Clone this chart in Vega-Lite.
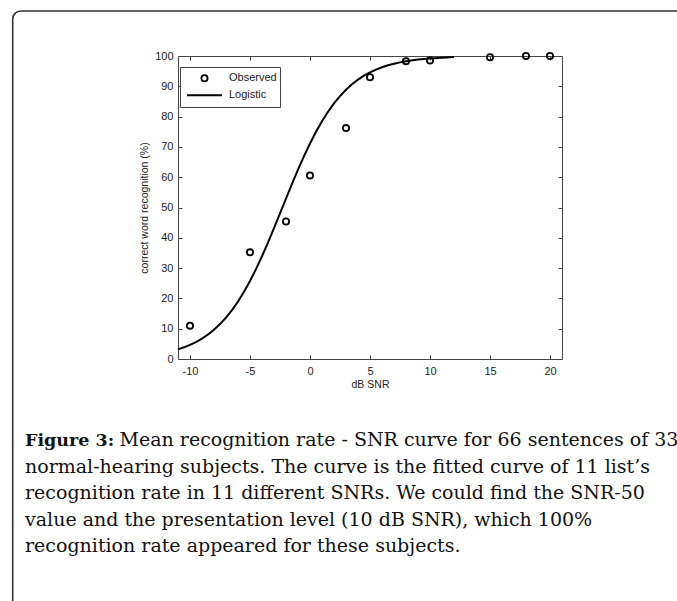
{
  "$schema": "https://vega.github.io/schema/vega-lite/v6.json",
  "width": 384,
  "height": 303,
  "autosize": "none",
  "padding": {"left": 178, "top": 56, "right": 115, "bottom": 242},
  "background": "white",
  "config": {
    "view": {"stroke": "#444", "strokeWidth": 1},
    "axis": {
      "grid": false,
      "domain": false,
      "ticks": true,
      "tickColor": "#444",
      "tickSize": -4,
      "tickWidth": 1,
      "labelFont": "Liberation Sans",
      "labelFontSize": 11,
      "labelColor": "#222",
      "titleFont": "Liberation Sans",
      "titleFontSize": 10.5,
      "titleFontWeight": "normal",
      "titleColor": "#222"
    }
  },
  "resolve": {"axis": {"x": "independent", "y": "independent"}},
  "layer": [
    {
      "data": {"values": [{"part": "frame"}]},
      "mark": {"type": "rect", "filled": false, "stroke": "#333", "strokeWidth": 1.6, "cornerRadius": 8},
      "encoding": {
        "x": {"datum": -24.775, "type": "quantitative", "scale": {"domain": [-11, 21]}, "axis": null},
        "x2": {"datum": 50},
        "y": {"datum": 114.85, "type": "quantitative", "scale": {"domain": [0, 100]}, "axis": null},
        "y2": {"datum": -120}
      }
    },
    {
      "data": {"values": [
        {"snr": -11, "pct": 3.19}, {"snr": -10.5, "pct": 3.86}, {"snr": -10, "pct": 4.65},
        {"snr": -9.5, "pct": 5.6}, {"snr": -9, "pct": 6.74}, {"snr": -8.5, "pct": 8.09},
        {"snr": -8, "pct": 9.66}, {"snr": -7.5, "pct": 11.52}, {"snr": -7, "pct": 13.67},
        {"snr": -6.5, "pct": 16.15}, {"snr": -6, "pct": 18.98}, {"snr": -5.5, "pct": 22.19},
        {"snr": -5, "pct": 25.75}, {"snr": -4.5, "pct": 29.67}, {"snr": -4, "pct": 33.91},
        {"snr": -3.5, "pct": 38.44}, {"snr": -3, "pct": 43.17}, {"snr": -2.5, "pct": 48.04},
        {"snr": -2, "pct": 52.94}, {"snr": -1.5, "pct": 57.79}, {"snr": -1, "pct": 62.5},
        {"snr": -0.5, "pct": 66.95}, {"snr": 0, "pct": 71.13}, {"snr": 0.5, "pct": 74.98},
        {"snr": 1, "pct": 78.48}, {"snr": 1.5, "pct": 81.61}, {"snr": 2, "pct": 84.37},
        {"snr": 2.5, "pct": 86.78}, {"snr": 3, "pct": 88.87}, {"snr": 3.5, "pct": 90.68},
        {"snr": 4, "pct": 92.21}, {"snr": 4.5, "pct": 93.5}, {"snr": 5, "pct": 94.6},
        {"snr": 5.5, "pct": 95.52}, {"snr": 6, "pct": 96.28}, {"snr": 6.5, "pct": 96.93},
        {"snr": 7, "pct": 97.46}, {"snr": 7.5, "pct": 97.9}, {"snr": 8, "pct": 98.27},
        {"snr": 9, "pct": 98.82}, {"snr": 10, "pct": 99.2}, {"snr": 11, "pct": 99.46},
        {"snr": 12, "pct": 99.63}
      ]},
      "mark": {"type": "line", "color": "black", "strokeWidth": 2},
      "encoding": {
        "x": {"field": "snr", "type": "quantitative", "scale": {"domain": [-11, 21]},
              "axis": {"orient": "top", "values": [-10, -5, 0, 5, 10, 15, 20], "labels": false, "title": null}},
        "y": {"field": "pct", "type": "quantitative", "scale": {"domain": [0, 100]},
              "axis": {"orient": "right", "values": [0, 10, 20, 30, 40, 50, 60, 70, 80, 90, 100], "labels": false, "title": null}}
      }
    },
    {
      "data": {"values": [
        {"snr": -10, "pct": 11.0, "series": "Observed"},
        {"snr": -5, "pct": 35.2, "series": "Observed"},
        {"snr": -2, "pct": 45.4, "series": "Observed"},
        {"snr": 0, "pct": 60.6, "series": "Observed"},
        {"snr": 3, "pct": 76.2, "series": "Observed"},
        {"snr": 5, "pct": 93.0, "series": "Observed"},
        {"snr": 8, "pct": 98.3, "series": "Observed"},
        {"snr": 10, "pct": 98.5, "series": "Observed"},
        {"snr": 15, "pct": 99.6, "series": "Observed"},
        {"snr": 18, "pct": 100, "series": "Observed"},
        {"snr": 20, "pct": 100, "series": "Observed"}
      ]},
      "mark": {"type": "point", "filled": false, "size": 1225, "strokeWidth": 1.8, "color": "black", "opacity": 1},
      "encoding": {
        "x": {"field": "snr", "type": "quantitative", "scale": {"domain": [-11, 21]},
              "axis": {"orient": "bottom", "values": [-10, -5, 0, 5, 10, 15, 20], "title": "dB SNR",
                       "labelExpr": "'' + datum.value", "labelPadding": 10, "titlePadding": 3}},
        "y": {"field": "pct", "type": "quantitative", "scale": {"domain": [0, 100]},
              "axis": {"orient": "left", "values": [0, 10, 20, 30, 40, 50, 60, 70, 80, 90, 100],
                       "title": "correct word recognition (%)", "labelPadding": 9, "titlePadding": 5}},
        "shape": {
          "field": "series", "type": "nominal",
          "scale": {"domain": ["Observed", "Logistic"],
                    "range": ["M-0.177,0A0.177,0.177,0,1,1,0.177,0A0.177,0.177,0,1,1,-0.177,0Z", "M-1,0H1"]},
          "legend": {
            "title": null, "orient": "none", "legendX": 2, "legendY": 11,
            "fillColor": "white", "strokeColor": "#444", "padding": 3,
            "clipHeight": 16.5, "rowPadding": 0, "symbolSize": 1225,
            "symbolStrokeColor": "black", "symbolStrokeWidth": 1.8, "symbolFillColor": "transparent",
            "symbolOffset": 3, "labelOffset": 6,
            "labelFont": "Liberation Sans", "labelFontSize": 11, "labelColor": "#222"
          }
        }
      }
    },
    {
      "data": {"values": [{"t": "Figure 3:"}]},
      "mark": {"type": "text", "font": "DejaVu Serif", "fontSize": 17.5, "fontWeight": "bold", "align": "left", "baseline": "alphabetic", "color": "#111"},
      "encoding": {
        "x": {"datum": -23.75, "type": "quantitative", "scale": {"domain": [-11, 21]}, "axis": null},
        "y": {"datum": -28.71, "type": "quantitative", "scale": {"domain": [0, 100]}, "axis": null},
        "text": {"field": "t", "type": "nominal"}
      }
    },
    {
      "data": {"values": [{"t": "Mean recognition rate - SNR curve for 66 sentences of 33"}]},
      "mark": {"type": "text", "font": "DejaVu Serif", "fontSize": 19, "align": "left", "baseline": "alphabetic", "color": "#111"},
      "encoding": {
        "x": {"datum": -15.875, "type": "quantitative", "scale": {"domain": [-11, 21]}, "axis": null},
        "y": {"datum": -28.71, "type": "quantitative", "scale": {"domain": [0, 100]}, "axis": null},
        "text": {"field": "t", "type": "nominal"}
      }
    },
    {
      "data": {"values": [{"t": [
        "normal-hearing subjects. The curve is the fitted curve of 11 list’s",
        "recognition rate in 11 different SNRs. We could find the SNR-50",
        "value and the presentation level (10 dB SNR), which 100%",
        "recognition rate appeared for these subjects."
      ]}]},
      "mark": {"type": "text", "font": "DejaVu Serif", "fontSize": 19, "lineHeight": 26.6, "align": "left", "baseline": "alphabetic", "color": "#111"},
      "encoding": {
        "x": {"datum": -23.75, "type": "quantitative", "scale": {"domain": [-11, 21]}, "axis": null},
        "y": {"datum": -37.49, "type": "quantitative", "scale": {"domain": [0, 100]}, "axis": null},
        "text": {"field": "t", "type": "nominal"}
      }
    }
  ]
}
